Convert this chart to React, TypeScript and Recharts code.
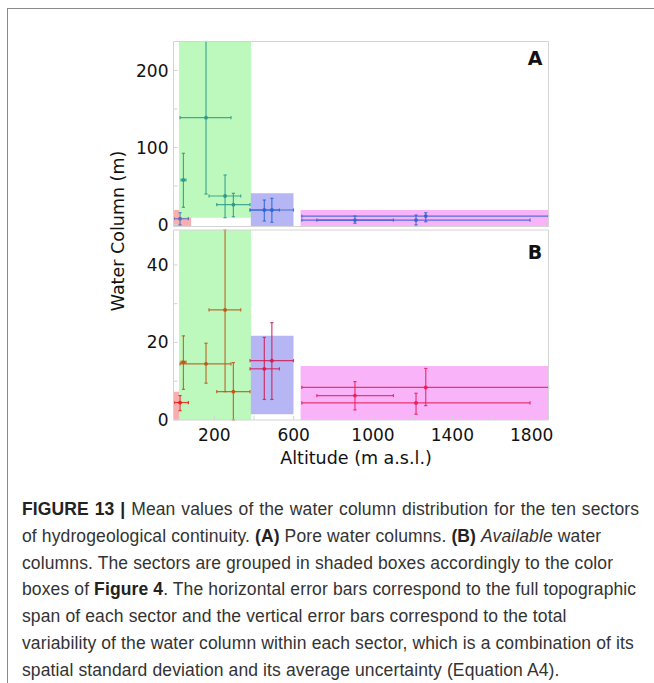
import React from "react";
import { ScatterChart, Scatter, XAxis, YAxis, ErrorBar, ReferenceArea } from "recharts";

// Sectors of hydrogeological continuity (altitude in m a.s.l.)
const sectorGroup = ["red", "green", "green", "green", "green", "blue", "blue", "magenta", "magenta", "magenta"];
const altitude = [27, 44, 158, 254, 296, 452, 490, 909, 1217, 1266];
const altitudeMin = [-3, 32, 27, 173, 212, 380, 380, 717, 641, 641];
const altitudeMax = [69, 57, 284, 333, 380, 528, 599, 1103, 1792, 1885];

// (A) pore water columns (m)
const poreColumn = [7.5, 57.8, 138.7, 37, 25.7, 18.8, 18.8, 5.8, 5.8, 11];
const poreMin = [-0.5, 22.3, 39.6, 8.8, 10.1, 4.5, 2.9, 1.6, -0.6, 3.6];
const poreMax = [15.3, 92.5, 237.7, 64.3, 40.5, 31.8, 34, 11, 12.3, 15.3];

// (B) available water columns (m)
const availableColumn = [4.5, 14.9, 14.5, 28.4, 7.3, 13.2, 15.3, 6.3, 4.4, 8.4];
const availableMin = [2.4, 7.9, 9.5, 7.3, 0, 5.3, 5.3, 2.6, 1.5, 3.7];
const availableMax = [6.3, 21.7, 19.8, 49, 14.8, 21.3, 25.1, 9.9, 6.9, 13.3];

// Shaded group boxes
const groupNames = ["red", "green", "blue", "magenta"];
const boxAltMin = [-6, 22, 384, 635];
const boxAltMax = [83, 385, 599, 1885];
const poreBoxMin = [-2.6, 8.8, -2.6, -2.6];
const poreBoxMax = [18.8, 237.7, 40.5, 18.8];
const availableBoxMin = [0, 0, 1.5, 0];
const availableBoxMax = [7.3, 49, 21.7, 13.9];

// Axes
const altitudeDomain = [-6, 1885];
const altitudeTicks = [200, 400, 600, 800, 1000, 1200, 1400, 1600, 1800];
const altitudeTickLabels = [200, 600, 1000, 1400, 1800];
const poreDomain = [-2.6, 237.7];
const poreTicks = [0, 50, 100, 150, 200];
const poreTickLabels = [0, 100, 200];
const availableDomain = [0, 49];
const availableTicks = [0, 10, 20, 30, 40];
const availableTickLabels = [0, 20, 40];

const boxFill: Record<string, string> = {
  red: "#f7b0b0",
  green: "#bdf8bd",
  blue: "#b6b6f4",
  magenta: "#f9b4f9",
};
const poreColors: Record<string, string> = {
  red: "#5a6cb8",
  green: "#2f9a8a",
  blue: "#2f66d8",
  magenta: "#3a62d6",
};
const availableColors: Record<string, string> = {
  red: "#f21c1c",
  green: "#b95a1a",
  blue: "#d01e55",
  magenta: "#ec1d5c",
};

const FRAME = "#d4d4d4";
const TICK_FONT = { fontFamily: "DejaVu Sans", fontSize: 17, fill: "#111" };

type Row = { x: number; y: number; ex: number[]; ey: number[] };

function buildRows(values: number[], mins: number[], maxs: number[], group: string): Row[] {
  const rows: Row[] = [];
  values.forEach((v, i) => {
    if (sectorGroup[i] !== group) return;
    rows.push({
      x: altitude[i],
      y: v,
      ex: [altitude[i] - altitudeMin[i], altitudeMax[i] - altitude[i]],
      ey: [v - mins[i], maxs[i] - v],
    });
  });
  return rows;
}

// small dot marker at the position the library computes
const dot = (color: string) => (props: any) => <circle cx={props.cx} cy={props.cy} r={1.9} fill={color} />;

type PanelProps = {
  height: number;
  top: number;
  bottom: number;
  yDomain: number[];
  yTicks: number[];
  yLabels: number[];
  values: number[];
  mins: number[];
  maxs: number[];
  boxMin: number[];
  boxMax: number[];
  colors: Record<string, string>;
  showX: boolean;
};

function Panel(p: PanelProps) {
  // each frame axis takes 1px, so the plot box is left 173.5 .. right 548.5
  const margin = { top: p.top, bottom: p.bottom, left: 172.5, right: 104.5 };
  return (
    <ScatterChart width={654} height={p.height} margin={margin}>
      <XAxis
        xAxisId="b"
        dataKey="x"
        type="number"
        orientation="bottom"
        domain={altitudeDomain}
        ticks={altitudeTicks}
        interval={0}
        allowDataOverflow
        height={1}
        axisLine={{ stroke: FRAME }}
        tickLine={{ stroke: FRAME }}
        tickSize={-4}
        tickMargin={13}
        tick={p.showX ? TICK_FONT : false}
        tickFormatter={(v: number) => (altitudeTickLabels.includes(v) ? String(v) : "")}
      />
      <XAxis
        xAxisId="t"
        type="number"
        orientation="top"
        domain={altitudeDomain}
        ticks={altitudeTicks}
        interval={0}
        allowDataOverflow
        height={1}
        axisLine={{ stroke: FRAME }}
        tickLine={{ stroke: FRAME }}
        tickSize={-4}
        tick={false}
      />
      <YAxis
        yAxisId="l"
        dataKey="y"
        type="number"
        orientation="left"
        domain={p.yDomain}
        ticks={p.yTicks}
        interval={0}
        allowDataOverflow
        width={1}
        axisLine={{ stroke: FRAME }}
        tickLine={{ stroke: FRAME }}
        tickSize={-4}
        tickMargin={9}
        tick={TICK_FONT}
        tickFormatter={(v: number) => (p.yLabels.includes(v) ? String(v) : "")}
      />
      <YAxis
        yAxisId="r"
        type="number"
        orientation="right"
        domain={p.yDomain}
        ticks={p.yTicks}
        interval={0}
        allowDataOverflow
        width={1}
        axisLine={{ stroke: FRAME }}
        tickLine={{ stroke: FRAME }}
        tickSize={-4}
        tick={false}
      />
      {groupNames.map((g, i) => (
        <ReferenceArea
          key={g}
          xAxisId="b"
          yAxisId="l"
          x1={boxAltMin[i]}
          x2={boxAltMax[i]}
          y1={p.boxMin[i]}
          y2={p.boxMax[i]}
          fill={boxFill[g]}
          fillOpacity={1}
          stroke="none"
          ifOverflow="hidden"
        />
      ))}
      {groupNames.map((g) => (
        <Scatter
          key={g}
          xAxisId="b"
          yAxisId="l"
          data={buildRows(p.values, p.mins, p.maxs, g)}
          fill={p.colors[g]}
          shape={dot(p.colors[g])}
          isAnimationActive={false}
        >
          <ErrorBar direction="x" dataKey="ex" stroke={p.colors[g]} strokeWidth={1.2} width={1.6} strokeOpacity={0.85} />
          <ErrorBar direction="y" dataKey="ey" stroke={p.colors[g]} strokeWidth={1.2} width={1.6} strokeOpacity={0.85} />
        </Scatter>
      ))}
    </ScatterChart>
  );
}

const captionStyle: React.CSSProperties = {
  position: "absolute",
  left: 22,
  top: 496,
  fontFamily: "Liberation Sans, Arial, sans-serif",
  fontSize: 17.5,
  letterSpacing: 0.12,
  lineHeight: "26.8px",
  color: "#333",
  whiteSpace: "nowrap",
};
const bold: React.CSSProperties = { fontWeight: "bold", color: "#222" };

export default function App() {
  return (
    <div style={{ position: "absolute", left: 0, top: 0, width: 654, height: 683, background: "#fff", overflow: "hidden" }}>
      <div
        style={{
          position: "absolute",
          left: 7,
          top: 8,
          width: 660,
          height: 700,
          borderLeft: "1.5px solid #8a8a8a",
          borderTop: "1.5px solid #8a8a8a",
        }}
      />
      <div style={{ position: "absolute", left: 0, top: 0 }}>
        <Panel
          height={240}
          top={40.5}
          bottom={12.5}
          yDomain={poreDomain}
          yTicks={poreTicks}
          yLabels={poreTickLabels}
          values={poreColumn}
          mins={poreMin}
          maxs={poreMax}
          boxMin={poreBoxMin}
          boxMax={poreBoxMax}
          colors={poreColors}
          showX={false}
        />
      </div>
      <div style={{ position: "absolute", left: 0, top: 0 }}>
        <Panel
          height={480}
          top={229}
          bottom={59}
          yDomain={availableDomain}
          yTicks={availableTicks}
          yLabels={availableTickLabels}
          values={availableColumn}
          mins={availableMin}
          maxs={availableMax}
          boxMin={availableBoxMin}
          boxMax={availableBoxMax}
          colors={availableColors}
          showX={true}
        />
      </div>
      <svg width={654} height={683} style={{ position: "absolute", left: 0, top: 0, pointerEvents: "none" }}>
        <text x={535} y={58} textAnchor="middle" dominantBaseline="central" fontFamily="DejaVu Sans" fontWeight="bold" fontSize={19} fill="#111">A</text>
        <text x={535} y={252} textAnchor="middle" dominantBaseline="central" fontFamily="DejaVu Sans" fontWeight="bold" fontSize={19} fill="#111">B</text>
        <text x={118} y={231} transform="rotate(-90 118 231)" textAnchor="middle" dominantBaseline="central" fontFamily="DejaVu Sans" fontSize={17.5} fill="#111">Water Column (m)</text>
        <text x={356} y={458} textAnchor="middle" dominantBaseline="central" fontFamily="DejaVu Sans" fontSize={17.5} fill="#111">Altitude (m a.s.l.)</text>
      </svg>
      <div style={captionStyle}>
        <div style={{ wordSpacing: 0.9 }}><span style={bold}>FIGURE 13 |</span> Mean values of the water column distribution for the ten sectors</div>
        <div>of hydrogeological continuity. <span style={bold}>(A)</span> Pore water columns. <span style={bold}>(B)</span> <i>Available</i> water</div>
        <div>columns. The sectors are grouped in shaded boxes accordingly to the color</div>
        <div>boxes of <span style={bold}>Figure 4</span>. The horizontal error bars correspond to the full topographic</div>
        <div>span of each sector and the vertical error bars correspond to the total</div>
        <div>variability of the water column within each sector, which is a combination of its</div>
        <div>spatial standard deviation and its average uncertainty (Equation A4).</div>
      </div>
    </div>
  );
}
